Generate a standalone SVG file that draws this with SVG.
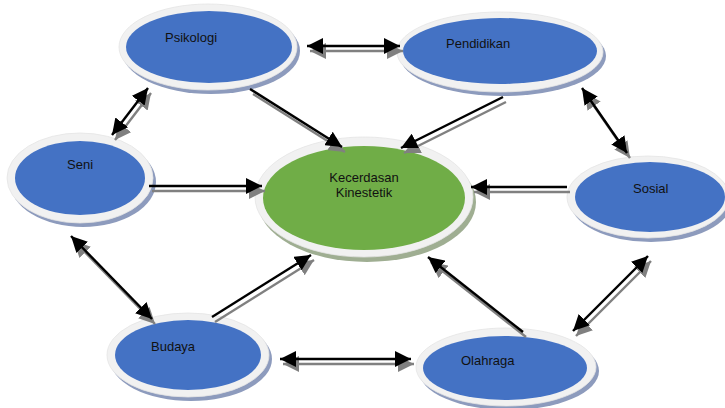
<svg xmlns="http://www.w3.org/2000/svg" width="725" height="408" viewBox="0 0 725 408">
<defs>
<marker id="ah" markerUnits="userSpaceOnUse" markerWidth="16" markerHeight="16" viewBox="0 0 14 14" refX="14" refY="7" orient="auto-start-reverse"><path d="M0,0 L14,7 L0,14 z" fill="#000"/></marker>
<marker id="ahg" markerUnits="userSpaceOnUse" markerWidth="16" markerHeight="16" viewBox="0 0 14 14" refX="14" refY="7" orient="auto-start-reverse"><path d="M0,0 L14,7 L0,14 z" fill="#808080"/></marker>
</defs>
<style>
.sh{fill:#8d9bbd}
.shg{fill:#9fae92}
.ring{fill:#f1f1f1;stroke:#e4e4e4;stroke-width:0.8}
.blue{fill:#4472c4}
.green{fill:#70ad47}
.t{font-family:"Liberation Sans",Arial,sans-serif;font-size:13px;fill:#111}
.c line{stroke-width:2.4}
.blk line{stroke:#000}
.gry line{stroke:#808080}
.uni{marker-end:url(#ah)}
.bi{marker-start:url(#ah);marker-end:url(#ah)}
.gry .uni{marker-end:url(#ahg)}
.gry .bi{marker-start:url(#ahg);marker-end:url(#ahg)}
</style>
<g id="psikologi">
<ellipse class="sh" cx="211" cy="51" rx="89" ry="43"/>
<ellipse class="ring" cx="208" cy="47" rx="89" ry="43"/>
<ellipse class="blue" cx="209" cy="47" rx="83" ry="36"/>
<text class="t" x="165" y="42">Psikologi</text>
</g>
<g id="pendidikan">
<ellipse class="sh" cx="503" cy="56" rx="103" ry="40"/>
<ellipse class="ring" cx="500" cy="52" rx="103" ry="40"/>
<ellipse class="blue" cx="500" cy="51" rx="97" ry="33"/>
<text class="t" x="446" y="48">Pendidikan</text>
</g>
<g id="sosial">
<ellipse class="sh" cx="651" cy="201" rx="81" ry="41"/>
<ellipse class="ring" cx="648" cy="197" rx="81" ry="41"/>
<ellipse class="blue" cx="650" cy="197" rx="75" ry="35"/>
<text class="t" x="633" y="193">Sosial</text>
</g>
<g id="kecerdasan">
<ellipse class="shg" cx="367" cy="202" rx="109" ry="60"/>
<ellipse class="ring" cx="364" cy="197" rx="109" ry="60"/>
<ellipse class="green" cx="364" cy="198" rx="101" ry="52"/>
<text class="t" x="364" y="182" text-anchor="middle">Kecerdasan</text>
<text class="t" x="364" y="197" text-anchor="middle">Kinestetik</text>
</g>
<g id="seni">
<ellipse class="sh" cx="83" cy="182" rx="73" ry="45"/>
<ellipse class="ring" cx="80" cy="178" rx="73" ry="45"/>
<ellipse class="blue" cx="80" cy="178" rx="65" ry="37"/>
<text class="t" x="67" y="169">Seni</text>
</g>
<g id="budaya">
<ellipse class="sh" cx="191" cy="359" rx="81" ry="42"/>
<ellipse class="ring" cx="188" cy="355" rx="81" ry="42"/>
<ellipse class="blue" cx="188" cy="355" rx="73" ry="35"/>
<text class="t" x="151" y="351">Budaya</text>
</g>
<g id="olahraga">
<ellipse class="sh" cx="509" cy="371" rx="90" ry="39"/>
<ellipse class="ring" cx="506" cy="367" rx="90" ry="39"/>
<ellipse class="blue" cx="505" cy="368" rx="82" ry="32"/>
<text class="t" x="461" y="365">Olahraga</text>
</g>
<g id="connectors" class="c">
<g class="gry" transform="translate(3,5)">
<line class="bi" x1="307" y1="46" x2="400" y2="46"/>
<line class="uni" x1="250" y1="89" x2="342" y2="147"/>
<line class="uni" x1="503" y1="97" x2="401" y2="148"/>
<line class="bi" x1="582" y1="88" x2="627" y2="153"/>
<line class="uni" x1="567" y1="187" x2="471" y2="187"/>
<line class="uni" x1="149" y1="186" x2="262" y2="186"/>
<line class="bi" x1="148" y1="88" x2="112" y2="135"/>
<line class="bi" x1="71" y1="236" x2="152" y2="319"/>
<line class="uni" x1="212" y1="317" x2="311" y2="255"/>
<line class="bi" x1="280" y1="359" x2="411" y2="359"/>
<line class="uni" x1="523" y1="332" x2="428" y2="257"/>
<line class="bi" x1="573" y1="331" x2="648" y2="256"/>
</g>
<g class="blk">
<line class="bi" x1="307" y1="46" x2="400" y2="46"/>
<line class="uni" x1="250" y1="89" x2="342" y2="147"/>
<line class="uni" x1="503" y1="97" x2="401" y2="148"/>
<line class="bi" x1="582" y1="88" x2="627" y2="153"/>
<line class="uni" x1="567" y1="187" x2="471" y2="187"/>
<line class="uni" x1="149" y1="186" x2="262" y2="186"/>
<line class="bi" x1="148" y1="88" x2="112" y2="135"/>
<line class="bi" x1="71" y1="236" x2="152" y2="319"/>
<line class="uni" x1="212" y1="317" x2="311" y2="255"/>
<line class="bi" x1="280" y1="359" x2="411" y2="359"/>
<line class="uni" x1="523" y1="332" x2="428" y2="257"/>
<line class="bi" x1="573" y1="331" x2="648" y2="256"/>
</g>
</g>
</svg>
